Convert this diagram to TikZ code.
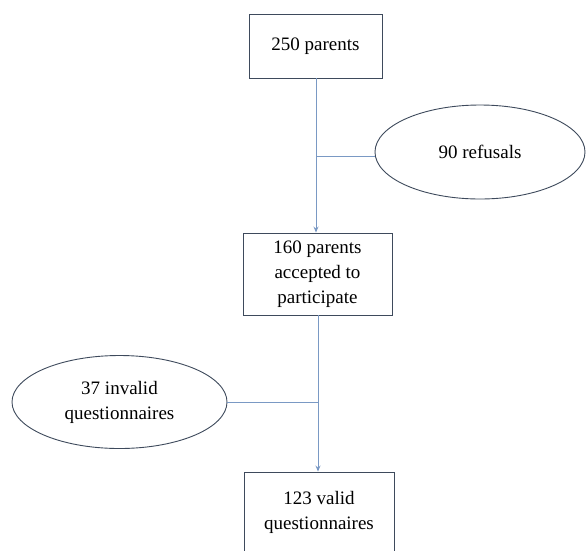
\documentclass[tikz,border=0pt]{standalone}
\usepackage{fontspec}
\setmainfont{Liberation Serif}
\usetikzlibrary{shapes.geometric,arrows.meta}
\definecolor{bordercol}{RGB}{62,74,92}
\definecolor{conncol}{RGB}{122,153,196}
\begin{document}
\begin{tikzpicture}[x=1pt,y=-1pt,
  boxnode/.style={draw=bordercol, line width=0.9pt, fill=white, align=center, inner sep=2pt,
     font=\fontsize{19}{25}\selectfont},
  ellnode/.style={ellipse, draw=bordercol, line width=0.9pt, fill=white, align=center, inner sep=0pt,
     font=\fontsize{19}{25}\selectfont},
  conn/.style={draw=conncol, line width=1pt},
  arr/.style={conn, -{Stealth[length=6pt,width=5pt]}}]
\path[use as bounding box] (0,0) rectangle (587,550);
\clip (0,0) rectangle (587,550);
\node[boxnode, minimum width=133pt, minimum height=64pt] (b1) at (315.5,46) {250 parents};
\node[boxnode, minimum width=149pt, minimum height=82pt] (b2) at (317.5,274) {160 parents\\accepted to\\participate};
\node[boxnode, minimum width=150pt, minimum height=80pt] (b3) at (319,512) {123 valid\\questionnaires};
\node[ellnode, minimum width=210pt, minimum height=94pt] (e1) at (480,152) {90 refusals};
\node[ellnode, minimum width=215pt, minimum height=93pt] (e2) at (119.5,402) {37 invalid\\questionnaires};
\coordinate (j1) at (316,156);
\coordinate (j2) at (318,402);
\draw[conn] (b1.south -| j1) -- (j1);
\draw[arr] (j1) -- (j1 |- b2.north);
\draw[conn] (e1.west |- j1) -- (j1);
\draw[conn] (b2.south -| j2) -- (j2);
\draw[arr] (j2) -- (j2 |- b3.north);
\draw[conn] (e2.east) -- (j2);
\end{tikzpicture}
\end{document}
